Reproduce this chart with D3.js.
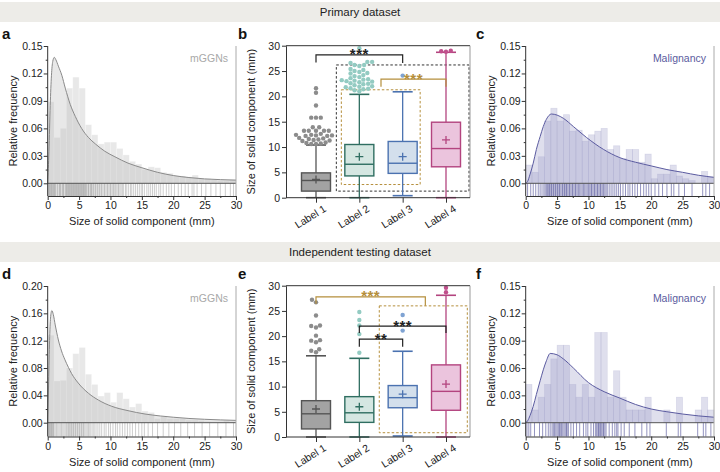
<!DOCTYPE html>
<html><head><meta charset="utf-8">
<script src="https://cdn.jsdelivr.net/npm/d3@7"></script>
<style>
body{margin:0;background:#fff}
svg{display:block}
text{font-family:Arial,"Liberation Sans",sans-serif}
</style>
</head><body>
<svg id="chart" width="720" height="472"></svg>
<script>
// ---------------- DATA ----------------
const sectionTitles = ["Primary dataset", "Independent testing dataset"];
const panelLetters = ["a","b","c","d","e","f"];
const binStarts = d3.range(0, 30, 1);
const xTicks = [0,5,10,15,20,25,30];
const boxLabels = ["Label 1","Label 2","Label 3","Label 4"];
const boxTicks = [0,5,10,15,20,25,30];

// panel a (mGGNs, primary)
const aHist = [0.089,0.050,0.060,0.104,0.116,0.104,0.064,0.053,0.043,0.045,0.045,0.038,0.031,0.024,0.021,0.015,0.018,0.017,0.012,0.011,0.008,0.008,0.007,0.009,0.005,0.005,0.004,0.003,0.003,0.004];
const aCurveX = [0,0.2,0.4,0.6,0.8,1.05,1.3,1.7,2.25,2.8,3.6,4.4,5.4,6.5,7.6,9.1,10.7,12.8,15,17.5,20,22.5,25,27.5,30];
const aCurveY = [0,0.035,0.085,0.118,0.133,0.1376,0.135,0.128,0.118,0.104,0.086,0.073,0.060,0.050,0.043,0.035,0.029,0.022,0.017,0.012,0.0085,0.0063,0.0048,0.004,0.0035];
const aRug = [0.1,0.2,0.3,0.4,0.5,0.6,0.7,0.8,0.9,1.0,1.1,1.2,1.3,1.5,1.6,1.8,1.9,2.0,2.1,2.3,2.4,2.5,2.6,2.8,2.9,3.0,3.1,3.2,3.3,3.4,3.5,3.6,3.7,3.8,3.9,4.0,4.1,4.2,4.3,4.4,4.5,4.6,4.7,4.8,4.9,5.0,5.1,5.2,5.3,5.4,5.5,5.6,5.7,5.8,5.9,6.0,6.1,6.2,6.4,6.5,6.6,6.8,6.9,7.0,7.1,7.3,7.4,7.6,7.7,7.9,8.0,8.2,8.3,8.5,8.6,8.8,9.0,9.1,9.3,9.5,9.6,9.8,10.0,10.1,10.3,10.5,10.6,10.8,11.0,11.2,11.3,11.5,11.7,11.9,12.1,12.4,12.6,12.9,13.2,13.4,13.7,14.0,14.3,14.6,14.9,15.1,15.4,15.8,16.1,16.4,16.7,17.0,17.3,17.7,18.0,18.4,18.9,19.3,19.7,20.2,20.8,21.3,21.9,22.4,23.0,23.3,23.8,24.5,25.2,26.0,26.8,27.5,28.3,29.1,29.6];

// panel c (Malignancy, primary)
const cHist = [0.020,0.012,0.029,0.068,0.082,0.068,0.075,0.057,0.058,0.046,0.053,0.057,0.060,0.037,0.041,0.027,0.037,0.037,0.023,0.032,0.005,0.010,0.010,0.020,0.008,0.005,0.003,0.000,0.013,0.007];
const cCurveX = [0,0.3,0.7,1.2,1.7,2.3,2.8,3.3,4.1,5,6,7.6,9.7,12.4,15,17.5,20,22.5,25,27.5,30];
const cCurveY = [0,0.002,0.010,0.022,0.037,0.051,0.062,0.070,0.0757,0.0745,0.071,0.062,0.050,0.037,0.028,0.023,0.019,0.015,0.012,0.0088,0.0065];
const cRug = [0.3,0.8,1.2,1.6,2.0,2.3,2.6,2.9,3.1,3.3,3.5,3.6,3.8,3.9,4.1,4.2,4.4,4.5,4.7,4.8,5.0,5.1,5.3,5.4,5.6,5.8,5.9,6.1,6.2,6.4,6.5,6.7,6.9,7.0,7.2,7.4,7.5,7.7,7.9,8.0,8.2,8.4,8.6,8.8,9.0,9.2,9.4,9.6,9.8,10.0,10.2,10.4,10.5,10.7,10.9,11.0,11.2,11.4,11.5,11.7,11.9,12.0,12.2,12.4,12.6,12.8,13.0,13.3,13.6,13.9,14.2,14.5,14.8,15.1,15.5,15.9,16.3,16.6,17.0,17.4,17.8,18.3,18.8,19.2,19.6,20.0,20.6,21.2,21.8,22.5,23.2,23.6,24.4,25.3,26.5,28.2,28.7,29.3];

// panel d (mGGNs, testing)
const dHist = [0.128,0.061,0.062,0.080,0.101,0.110,0.071,0.056,0.039,0.044,0.030,0.044,0.035,0.023,0.028,0.017,0.015,0.006,0.009,0.006,0.006,0.006,0.004,0.004,0.003,0.002,0.0015,0.0015,0.003,0.0015];
const dCurveX = [0,0.15,0.3,0.45,0.66,0.9,1.2,1.7,2.2,2.75,3.3,3.8,4.87,6.5,8.1,10.2,12.8,15.5,18,20,22.5,25,27.5,30];
const dCurveY = [0,0.06,0.12,0.153,0.164,0.158,0.143,0.121,0.105,0.092,0.081,0.072,0.058,0.043,0.033,0.024,0.0176,0.0127,0.0098,0.008,0.0062,0.005,0.0041,0.0034];
const dRug = [0.1,0.2,0.3,0.4,0.5,0.6,0.7,0.8,0.9,1.0,1.2,1.4,1.6,1.8,2.0,2.2,2.4,2.6,2.8,3.0,3.2,3.3,3.5,3.6,3.8,3.9,4.1,4.2,4.4,4.5,4.7,4.8,5.0,5.1,5.3,5.4,5.6,5.7,5.9,6.1,6.3,6.5,6.7,6.9,7.2,7.4,7.7,8.0,8.3,8.6,9.0,9.3,9.7,10.0,10.4,10.8,11.1,11.5,11.9,12.3,12.7,13.1,13.5,14.0,14.5,15.0,15.4,16.0,16.7,17.5,18.4,19.3,20.2,21.2,22.3,23.4,24.6,25.8,27.1,28.4,29.6];

// panel f (Malignancy, testing)
const fHist = [0.042,0.014,0.028,0.042,0.070,0.085,0.085,0.042,0.028,0.042,0.028,0.099,0.099,0.028,0.057,0.028,0.014,0.014,0.014,0.028,0,0,0.014,0,0.028,0,0,0.014,0.028,0.014];
const fCurveX = [0,0.3,0.7,1.2,1.7,2.3,2.8,3.3,3.9,5,6,7.6,10,12.5,15,17.5,20,22.5,25,27.5,30];
const fCurveY = [0,0.002,0.008,0.018,0.031,0.046,0.058,0.068,0.076,0.0745,0.070,0.060,0.044,0.034,0.027,0.020,0.015,0.012,0.0095,0.0075,0.006];
const fRug = [0.2,0.5,0.8,1.4,2.2,2.7,3.2,3.6,3.9,4.2,4.4,4.6,4.8,5.0,5.2,5.4,5.5,5.7,5.9,6.1,6.3,6.5,6.6,6.8,7.2,7.6,8.1,8.6,9.2,9.6,9.9,10.4,10.8,11.1,11.3,11.5,11.6,11.8,11.9,12.1,12.3,12.4,12.6,12.8,13.3,13.8,14.2,14.5,14.7,15.2,15.7,16.5,17.4,18.5,19.3,19.8,22.4,24.3,24.7,27.4,28.3,28.7,29.5];

// panel b box statistics (Label 1..4)
const bLow  = [0, 0, 0.4, 0];
const bQ1   = [1.3, 4.3, 4.8, 6.1];
const bMed  = [3.4, 6.6, 6.8, 9.7];
const bQ3   = [4.9, 10.5, 11.1, 14.9];
const bHigh = [10.4, 20.4, 20.9, 28.7];
const bMean = [3.6, 8.1, 8.1, 11.4];
const bOut1 = [21.6,20.7,18.2,15.8,15.8,15.8,13.9,13.9,13.2,13.2,13.2,13.2,13.2,12.6,12.4,12.4,12.3,12.3,12.2,12.2,11.8,11.7,11.6,11.5,11.4,11.3,11.2,10.9,10.8,10.7,10.6,10.6];
const bOut2 = [29.5,26.8,26.8,26.6,26.2,26.2,26.0,25.4,25.2,25.0,24.8,24.6,24.5,24.2,24.0,23.8,23.6,23.4,23.3,23.2,23.1,23.0,22.9,22.8,22.6,22.5,22.4,22.2,22.0,21.9,21.8,21.6,21.5,21.4,21.2,21.0];
const bOut3 = [24.1];
const bOut4 = [28.8,29.0,28.9];

// panel e box statistics
const eLow  = [0, 0, 0.2, 0];
const eQ1   = [1.6, 2.9, 5.8, 5.3];
const eMed  = [4.6, 4.8, 7.8, 9.05];
const eQ3   = [7.2, 8.0, 10.2, 14.3];
const eHigh = [16.1, 15.6, 17.0, 28.1];
const eMean = [5.55, 6.0, 8.5, 10.5];
const eOut1 = [27.2,26.7,24.1,22.1,22.0,21.7,20.1,19.2,19.1,18.8,17.4,17.1,16.8];
const eOut2 = [24.8,23.2,22.1,20.4,16.7];
const eOut3 = [24.2,21.1];
const eOut4 = [29.6,28.7];

// ---------------- DRAW ----------------
const svg = d3.select("#chart");
const fontNarrow = '"Liberation Sans Narrow","Arial Narrow",Arial,sans-serif';

// section bands
[0,1].forEach(i=>{
  const yb = 2 + i*240;
  svg.append("rect").attr("x",0).attr("y",yb).attr("width",720).attr("height",20).attr("fill","#edece8");
  svg.append("text").attr("x",360).attr("y",yb+14).attr("text-anchor","middle")
    .attr("font-size",11.5).style("font-family",fontNarrow).attr("fill","#222").text(sectionTitles[i]);
});
// letters
const letterPos = [[2,39],[238,39],[476,39],[2,279],[238,279],[476,279]];
panelLetters.forEach((l,i)=>{
  svg.append("text").attr("x",letterPos[i][0]).attr("y",letterPos[i][1]).attr("font-size",15)
    .attr("font-weight","bold").style("font-family",fontNarrow).attr("fill","#111").text(l);
});

function drawHist(cfg){
  const g = svg.append("g");
  const x = d3.scaleLinear().domain([0,30]).range([cfg.x0,cfg.x1]);
  const y = d3.scaleLinear().domain([0,cfg.yMax]).range([cfg.yZero,cfg.yTop]);
  const pts = cfg.cx.map((v,i)=>[v,cfg.cy[i]]);
  // bars
  g.selectAll("rect.bar").data(cfg.h).join("rect")
    .attr("x",(d,i)=>x(binStarts[i])).attr("width",(d,i)=>x(binStarts[i]+1)-x(binStarts[i]))
    .attr("y",d=>y(d)).attr("height",d=>y(0)-y(d))
    .attr("fill",cfg.fill).attr("fill-opacity",cfg.op)
    .attr("stroke",cfg.edge).attr("stroke-opacity",cfg.edgeOp).attr("stroke-width",0.7);
  // curve area
  const area = d3.area().x(d=>x(d[0])).y0(y(0)).y1(d=>y(d[1])).curve(d3.curveMonotoneX);
  g.append("path").attr("d",area(pts)).attr("fill",cfg.fill).attr("fill-opacity",cfg.op);
  const line = d3.line().x(d=>x(d[0])).y(d=>y(d[1])).curve(d3.curveMonotoneX);
  g.append("path").attr("d",line(pts)).attr("fill","none").attr("stroke",cfg.line).attr("stroke-width",1);
  // rug
  g.selectAll("line.rug").data(cfg.rug).join("line")
    .attr("x1",d=>x(d)).attr("x2",d=>x(d)).attr("y1",y(0)).attr("y2",cfg.yBot)
    .attr("stroke",cfg.rugColor).attr("stroke-opacity",cfg.rugOp).attr("stroke-width",1);
  // zero line
  g.append("line").attr("x1",cfg.x0).attr("x2",cfg.x1).attr("y1",y(0)).attr("y2",y(0)).attr("stroke","#555").attr("stroke-width",1);
  // right border
  g.append("line").attr("x1",cfg.x1).attr("x2",cfg.x1).attr("y1",cfg.yTop).attr("y2",cfg.yBot).attr("stroke","#aaa").attr("stroke-width",1);
  // left axis
  const major = d3.range(0, cfg.yMax+1e-9, cfg.yStep);
  const minor = d3.range(cfg.yStep/2, cfg.yMax, cfg.yStep);
  const ax = g.append("g").attr("transform",`translate(${cfg.x0},0)`)
    .call(d3.axisLeft(y).tickValues(major).tickFormat(d3.format(".2f")).tickSize(4).tickSizeOuter(0));
  ax.select(".domain").remove();
  const axm = g.append("g").attr("transform",`translate(${cfg.x0},0)`)
    .call(d3.axisLeft(y).tickValues(minor).tickFormat("").tickSize(2));
  axm.select(".domain").remove();
  g.append("line").attr("x1",cfg.x0).attr("x2",cfg.x0).attr("y1",cfg.yTop).attr("y2",cfg.yBot).attr("stroke","#333");
  // bottom axis
  const bx = g.append("g").attr("transform",`translate(0,${cfg.yBot})`)
    .call(d3.axisBottom(x).tickValues(xTicks).tickSize(4).tickSizeOuter(0));
  const bxm = g.append("g").attr("transform",`translate(0,${cfg.yBot})`)
    .call(d3.axisBottom(x).tickValues([2.5,7.5,12.5,17.5,22.5,27.5]).tickFormat("").tickSize(2));
  bxm.select(".domain").remove();
  [ax,axm,bx,bxm].forEach(a=>{
    a.selectAll("text").attr("font-size",10.5).attr("fill","#222").style("font-family","Arial,'Liberation Sans',sans-serif");
    a.selectAll("line").attr("stroke","#333");
    a.selectAll(".domain").attr("stroke","#333");
  });
  ax.selectAll("text").attr("x",-5);
  bx.selectAll("text").attr("y",6);
  // titles
  g.append("text").attr("x",(cfg.x0+cfg.x1)/2).attr("y",cfg.yBot+29).attr("text-anchor","middle")
    .attr("font-size",11).attr("fill","#222").text("Size of solid component (mm)");
  g.append("text").attr("transform",`translate(${cfg.x0-31},${(cfg.yTop+cfg.yBot)/2}) rotate(-90)`)
    .attr("text-anchor","middle").attr("font-size",11).attr("fill","#222").text("Relative frequency");
  g.append("text").attr("x",cfg.x1-8).attr("y",cfg.yTop+16).attr("text-anchor","end")
    .attr("font-size",10.5).attr("fill",cfg.legendColor).text(cfg.legend);
}

const greyCfg = {fill:"#b8b8b8", op:0.32, edge:"#ffffff", edgeOp:0.4, line:"#8a8a8a", rugColor:"#6f6f6f", rugOp:0.35, legend:"mGGNs", legendColor:"#a8a8a8"};
const blueCfg = {fill:"#9a9ac8", op:0.32, edge:"#7a7ab2", edgeOp:0.18, line:"#5b5ba0", rugColor:"#3c3c8c", rugOp:0.55, legend:"Malignancy", legendColor:"#5b5b9e"};

drawHist(Object.assign({}, greyCfg, {x0:47.7,x1:236,yTop:46,yZero:183.3,yBot:196,yMax:0.15,yStep:0.03,h:aHist,cx:aCurveX,cy:aCurveY,rug:aRug}));
drawHist(Object.assign({}, blueCfg, {x0:525.7,x1:714,yTop:46,yZero:183.3,yBot:196,yMax:0.15,yStep:0.03,h:cHist,cx:cCurveX,cy:cCurveY,rug:cRug}));
drawHist(Object.assign({}, greyCfg, {x0:47.7,x1:236,yTop:286,yZero:422.7,yBot:436.5,yMax:0.20,yStep:0.04,h:dHist,cx:dCurveX,cy:dCurveY,rug:dRug}));
drawHist(Object.assign({}, blueCfg, {x0:525.7,x1:714,yTop:286,yZero:422.7,yBot:436.5,yMax:0.15,yStep:0.03,h:fHist,cx:fCurveX,cy:fCurveY,rug:fRug}));

// box plots
const boxFill   = ["#a3a3a3","#d5e7e2","#d3dfec","#ebc4dd"];
const boxStroke = ["#555555","#2f6e61","#4b72b0","#b3447f"];
const dotColor  = ["#8c8c8c","#93cbc2","#7fa3d3","#c04f8c"];
const gold = "#b58f3c";

function beeswarm(vals, y, r){
  const placed = [];
  const sorted = vals.map((v,i)=>({v,i})).sort((a,b)=>a.v-b.v);
  sorted.forEach(o=>{
    const py = y(o.v);
    let off = 0;
    for(let k=0;k<200;k++){
      const cand = (k%2===0?1:-1)*Math.ceil(k/2)*0.8;
      if(placed.every(p=>Math.hypot(p.dx-cand,p.py-py)>=2*r)){off=cand;break;}
    }
    placed.push({dx:off,py});
  });
  return placed;
}

function drawBox(cfg){
  const g = svg.append("g");
  const x = d3.scalePoint().domain(boxLabels).range([316,446]);
  const y = d3.scaleLinear().domain([0,30]).range([cfg.yZero,cfg.yTop]);
  const left = 286, right = 470, bw = 29, cw = 20;
  // dashed boxes
  cfg.dashed.forEach(db=>{
    g.append("rect").attr("x",x(db.from)-db.padL).attr("width",x(db.to)+db.padR-(x(db.from)-db.padL))
      .attr("y",y(db.top)).attr("height",y(db.bottom)-y(db.top))
      .attr("fill","none").attr("stroke",db.color).attr("stroke-width",1).attr("stroke-dasharray","2.5,2");
  });
  boxLabels.forEach((lab,i)=>{
    const cx = x(lab);
    g.append("line").attr("x1",cx).attr("x2",cx).attr("y1",y(cfg.low[i])).attr("y2",y(cfg.high[i]))
      .attr("stroke",boxStroke[i]).attr("stroke-width",1.3);
    [cfg.low[i],cfg.high[i]].forEach(v=>{
      g.append("line").attr("x1",cx-cw/2).attr("x2",cx+cw/2).attr("y1",y(v)).attr("y2",y(v))
        .attr("stroke",boxStroke[i]).attr("stroke-width",1.6);
    });
    g.append("rect").attr("x",cx-bw/2).attr("width",bw).attr("y",y(cfg.q3[i])).attr("height",y(cfg.q1[i])-y(cfg.q3[i]))
      .attr("fill",boxFill[i]).attr("stroke",boxStroke[i]).attr("stroke-width",1.4);
    g.append("line").attr("x1",cx-bw/2).attr("x2",cx+bw/2).attr("y1",y(cfg.med[i])).attr("y2",y(cfg.med[i]))
      .attr("stroke",boxStroke[i]).attr("stroke-width",1.4);
    const my = y(cfg.mean[i]);
    g.append("path").attr("d",`M${cx-4},${my}H${cx+4}M${cx},${my-4}V${my+4}`)
      .attr("stroke",boxStroke[i]).attr("stroke-width",1.3).attr("fill","none");
    const r = 2.2;
    const pos = beeswarm(cfg.out[i], y, r);
    g.selectAll(null).data(pos).join("circle").attr("cx",d=>cx+d.dx).attr("cy",d=>d.py).attr("r",r)
      .attr("fill",dotColor[i]);
  });
  // brackets
  cfg.brackets.forEach(b=>{
    const x1 = typeof b.x1 === "string" ? x(b.x1) : (x(b.x1[0])+x(b.x1[1]))/2 + (b.x1[2]||0);
    const x2 = typeof b.x2 === "string" ? x(b.x2) : (x(b.x2[0])+x(b.x2[1]))/2 + (b.x2[2]||0);
    g.append("path").attr("d",`M${x1},${y(b.legL)}V${y(b.top)}H${x2}V${y(b.legR)}`)
      .attr("fill","none").attr("stroke",b.color).attr("stroke-width",1.2);
    g.append("text").attr("x",(x1+x2)/2).attr("y",y(b.top)+4.5).attr("text-anchor","middle")
      .attr("font-size",15).attr("font-weight","bold").attr("letter-spacing",0.5).attr("fill",b.color).text(b.label);
  });
  // frame
  g.append("line").attr("x1",left).attr("x2",right).attr("y1",y(30)).attr("y2",y(30)).attr("stroke","#333");
  g.append("line").attr("x1",right).attr("x2",right).attr("y1",y(30)).attr("y2",y(0)).attr("stroke","#999");
  const ay = g.append("g").attr("transform",`translate(${left},0)`).call(d3.axisLeft(y).tickValues(boxTicks).tickSize(4).tickSizeOuter(0));
  const axb = g.append("g").attr("transform",`translate(0,${y(0)})`).call(d3.axisBottom(x).tickSize(5).tickSizeOuter(0));
  axb.select(".domain").attr("d",`M${left},0H${right}`);
  [ay,axb].forEach(a=>{
    a.selectAll("line").attr("stroke","#333"); a.selectAll(".domain").attr("stroke","#333");
    a.selectAll("text").attr("font-size",10.5).attr("fill","#222").style("font-family","Arial,'Liberation Sans',sans-serif");
  });
  ay.selectAll("text").attr("x",-6);
  axb.selectAll("text").attr("text-anchor","end").attr("x",2).attr("y",9).attr("dy","0.71em")
    .attr("transform","rotate(-32)");
  g.append("text").attr("transform",`translate(${left-31},${(cfg.yTop+cfg.yZero)/2}) rotate(-90)`)
    .attr("text-anchor","middle").attr("font-size",11).attr("fill","#222").text("Size of solid component (mm)");
}

drawBox({yTop:45.7,yZero:197.7,low:bLow,q1:bQ1,med:bMed,q3:bQ3,high:bHigh,mean:bMean,out:[bOut1,bOut2,bOut3,bOut4],
  dashed:[{from:"Label 2",to:"Label 4",padL:23,padR:23,top:26.2,bottom:1.3,color:"#333"},
          {from:"Label 2",to:"Label 3",padL:18,padR:17.5,top:21.3,bottom:2.6,color:gold}],
  brackets:[{x1:"Label 1",x2:["Label 2","Label 4"],top:28.2,legL:26.7,legR:26.6,color:"#222",label:"***"},
            {x1:["Label 2","Label 3"],x2:"Label 4",top:23.4,legL:21.9,legR:21.9,color:gold,label:"***"}]});
drawBox({yTop:285.7,yZero:437,low:eLow,q1:eQ1,med:eMed,q3:eQ3,high:eHigh,mean:eMean,out:[eOut1,eOut2,eOut3,eOut4],
  dashed:[{from:"Label 3",to:"Label 4",padL:23.4,padR:21.3,top:26.0,bottom:0.85,color:gold}],
  brackets:[{x1:"Label 1",x2:["Label 3","Label 4",1],top:27.8,legL:26.4,legR:26.0,color:gold,label:"***"},
            {x1:"Label 2",x2:"Label 4",top:22.0,legL:20.6,legR:20.6,color:"#222",label:"***"},
            {x1:"Label 2",x2:"Label 3",top:19.4,legL:17.9,legR:17.9,color:"#222",label:"**"}]});
</script>
</body></html>
